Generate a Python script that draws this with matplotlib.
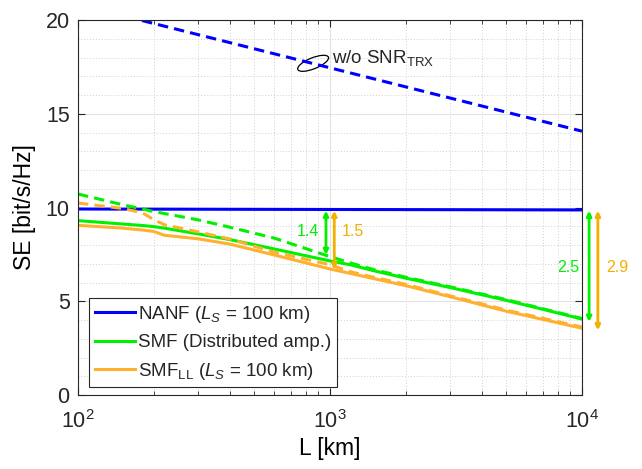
import numpy as np
import matplotlib
matplotlib.use('Agg')
import matplotlib.pyplot as plt
from matplotlib.patches import Ellipse
from matplotlib.transforms import IdentityTransform

plt.rcParams['font.family'] = ['Liberation Sans', 'DejaVu Sans']
plt.rcParams['mathtext.fontset'] = 'custom'
plt.rcParams['mathtext.rm'] = 'Liberation Sans'
plt.rcParams['mathtext.it'] = 'Liberation Sans:italic'
plt.rcParams['text.color'] = '#262626'

# data
L = [100, 150, 180, 200, 220, 300, 400, 600, 1000, 1200, 1500, 2000, 3000, 5000, 7000, 10000]
smf = [9.30, 9.12, 9.04, 8.98, 8.90, 8.59, 8.29, 7.79, 7.15, 6.95, 6.62, 6.23, 5.73, 5.05, 4.57, 4.05]
smf_ideal = [10.72, 10.15, 9.92, 9.78, 9.68, 9.34, 8.95, 8.37, 7.38, 7.05, 6.68, 6.28, 5.77, 5.09, 4.60, 4.08]
smf_ll = [9.05, 8.90, 8.80, 8.72, 8.52, 8.33, 8.05, 7.47, 6.72, 6.49, 6.20, 5.83, 5.24, 4.47, 4.03, 3.56]
smf_ll_ideal = [10.24, 9.95, 9.72, 9.35, 9.08, 8.70, 8.32, 7.62, 6.95, 6.58, 6.27, 5.90, 5.29, 4.53, 4.09, 3.62]
L_nanf = [100, 10000]
nanf = [9.92, 9.87]
nanf_ideal = [20.83, 14.07]

blue = '#0000ff'
green = '#00f000'
orange = '#ffb02e'
orange_txt = '#f2b000'

fig = plt.figure(figsize=(6.42, 4.69), dpi=100)
ax = fig.add_axes([78/642, 74/469, 504/642, 375/469])

dash = (3.4, 2.0)
ax.plot(L_nanf, nanf_ideal, color=blue, lw=2.2, dashes=dash)
l1, = ax.plot(L_nanf, nanf, color=blue, lw=2.2, label='NANF ($L_S$ = 100 km)')
ax.plot(L, smf_ideal, color=green, lw=2.2, dashes=dash)
l2, = ax.plot(L, smf, color=green, lw=2.2, label='SMF (Distributed amp.)')
ax.plot(L, smf_ll_ideal, color=orange, lw=2.2, dashes=dash)
l3, = ax.plot(L, smf_ll, color=orange, lw=2.2, label='SMF$_{\\mathrm{LL}}$ ($L_S$ = 100 km)')

ax.set_xscale('log')
ax.set_xlim(100, 10000)
ax.set_ylim(0, 20)
ax.set_yticks([0, 5, 10, 15, 20])
ax.set_yticks(np.arange(0, 21, 1), minor=True)

ax.grid(True, which='major', color='#e3e3e3', lw=0.8)
ax.grid(True, which='minor', color='#d0d0d0', lw=0.7, ls=(0, (1, 2)))
ax.set_axisbelow(True)

ax.tick_params(which='both', direction='in', top=True, right=True, colors='#262626',
               labelsize=15.5)
ax.tick_params(which='major', length=5, width=0.8)
ax.tick_params(which='minor', length=3, width=0.6)
ax.tick_params(axis='y', which='minor', length=0)
ax.tick_params(axis='x', which='major', pad=11)
ax.tick_params(axis='y', which='major', pad=6)
for s in ax.spines.values():
    s.set_color('#262626')
    s.set_linewidth(0.8)

ax.set_xlabel('L [km]', fontsize=16.5, labelpad=3)
ax.set_ylabel('SE [bit/s/Hz]', fontsize=16.5, labelpad=7)

leg = ax.legend(handles=[l1, l2, l3], loc='lower left', bbox_to_anchor=(0.022, 0.021),
                borderaxespad=0, fontsize=13.5, frameon=True, fancybox=False,
                edgecolor='#262626', framealpha=1, handlelength=2.13,
                handletextpad=0.2, labelspacing=0.5, borderpad=0.3)
leg.get_frame().set_linewidth(0.8)

# gap arrows
def gap(x, y0, y1, c):
    ax.annotate('', xy=(x, y1), xytext=(x, y0), annotation_clip=False,
                arrowprops=dict(arrowstyle='<|-|>', color=c, lw=2,
                                mutation_scale=7, shrinkA=0, shrinkB=0))

gap(964, 9.83, 7.47, green)
gap(1040, 9.83, 6.69, orange_txt)
gap(10670, 9.83, 3.90, green)
gap(11560, 9.83, 3.45, orange_txt)
ax.text(905, 8.7, '1.4', color=green, fontsize=11.5, ha='right', va='center')
ax.text(1110, 8.7, '1.5', color=orange_txt, fontsize=11.5, ha='left', va='center')
ax.text(9750, 6.8, '2.5', color=green, fontsize=11.5, ha='right', va='center')
ax.text(12450, 6.8, '2.9', color=orange_txt, fontsize=11.5, ha='left', va='center', clip_on=False)

# w/o SNR_TRX annotation
cx, cy = ax.transData.transform((857, 17.69))
ax.add_patch(Ellipse((cx, cy), 33, 11, angle=22, transform=IdentityTransform(),
                     fill=False, color='black', lw=0.9))
ax.text(1020, 17.95, 'w/o SNR$_{\\mathrm{TRX}}$', fontsize=13.5, ha='left', va='center')

fig.savefig('out.png', dpi=100)
